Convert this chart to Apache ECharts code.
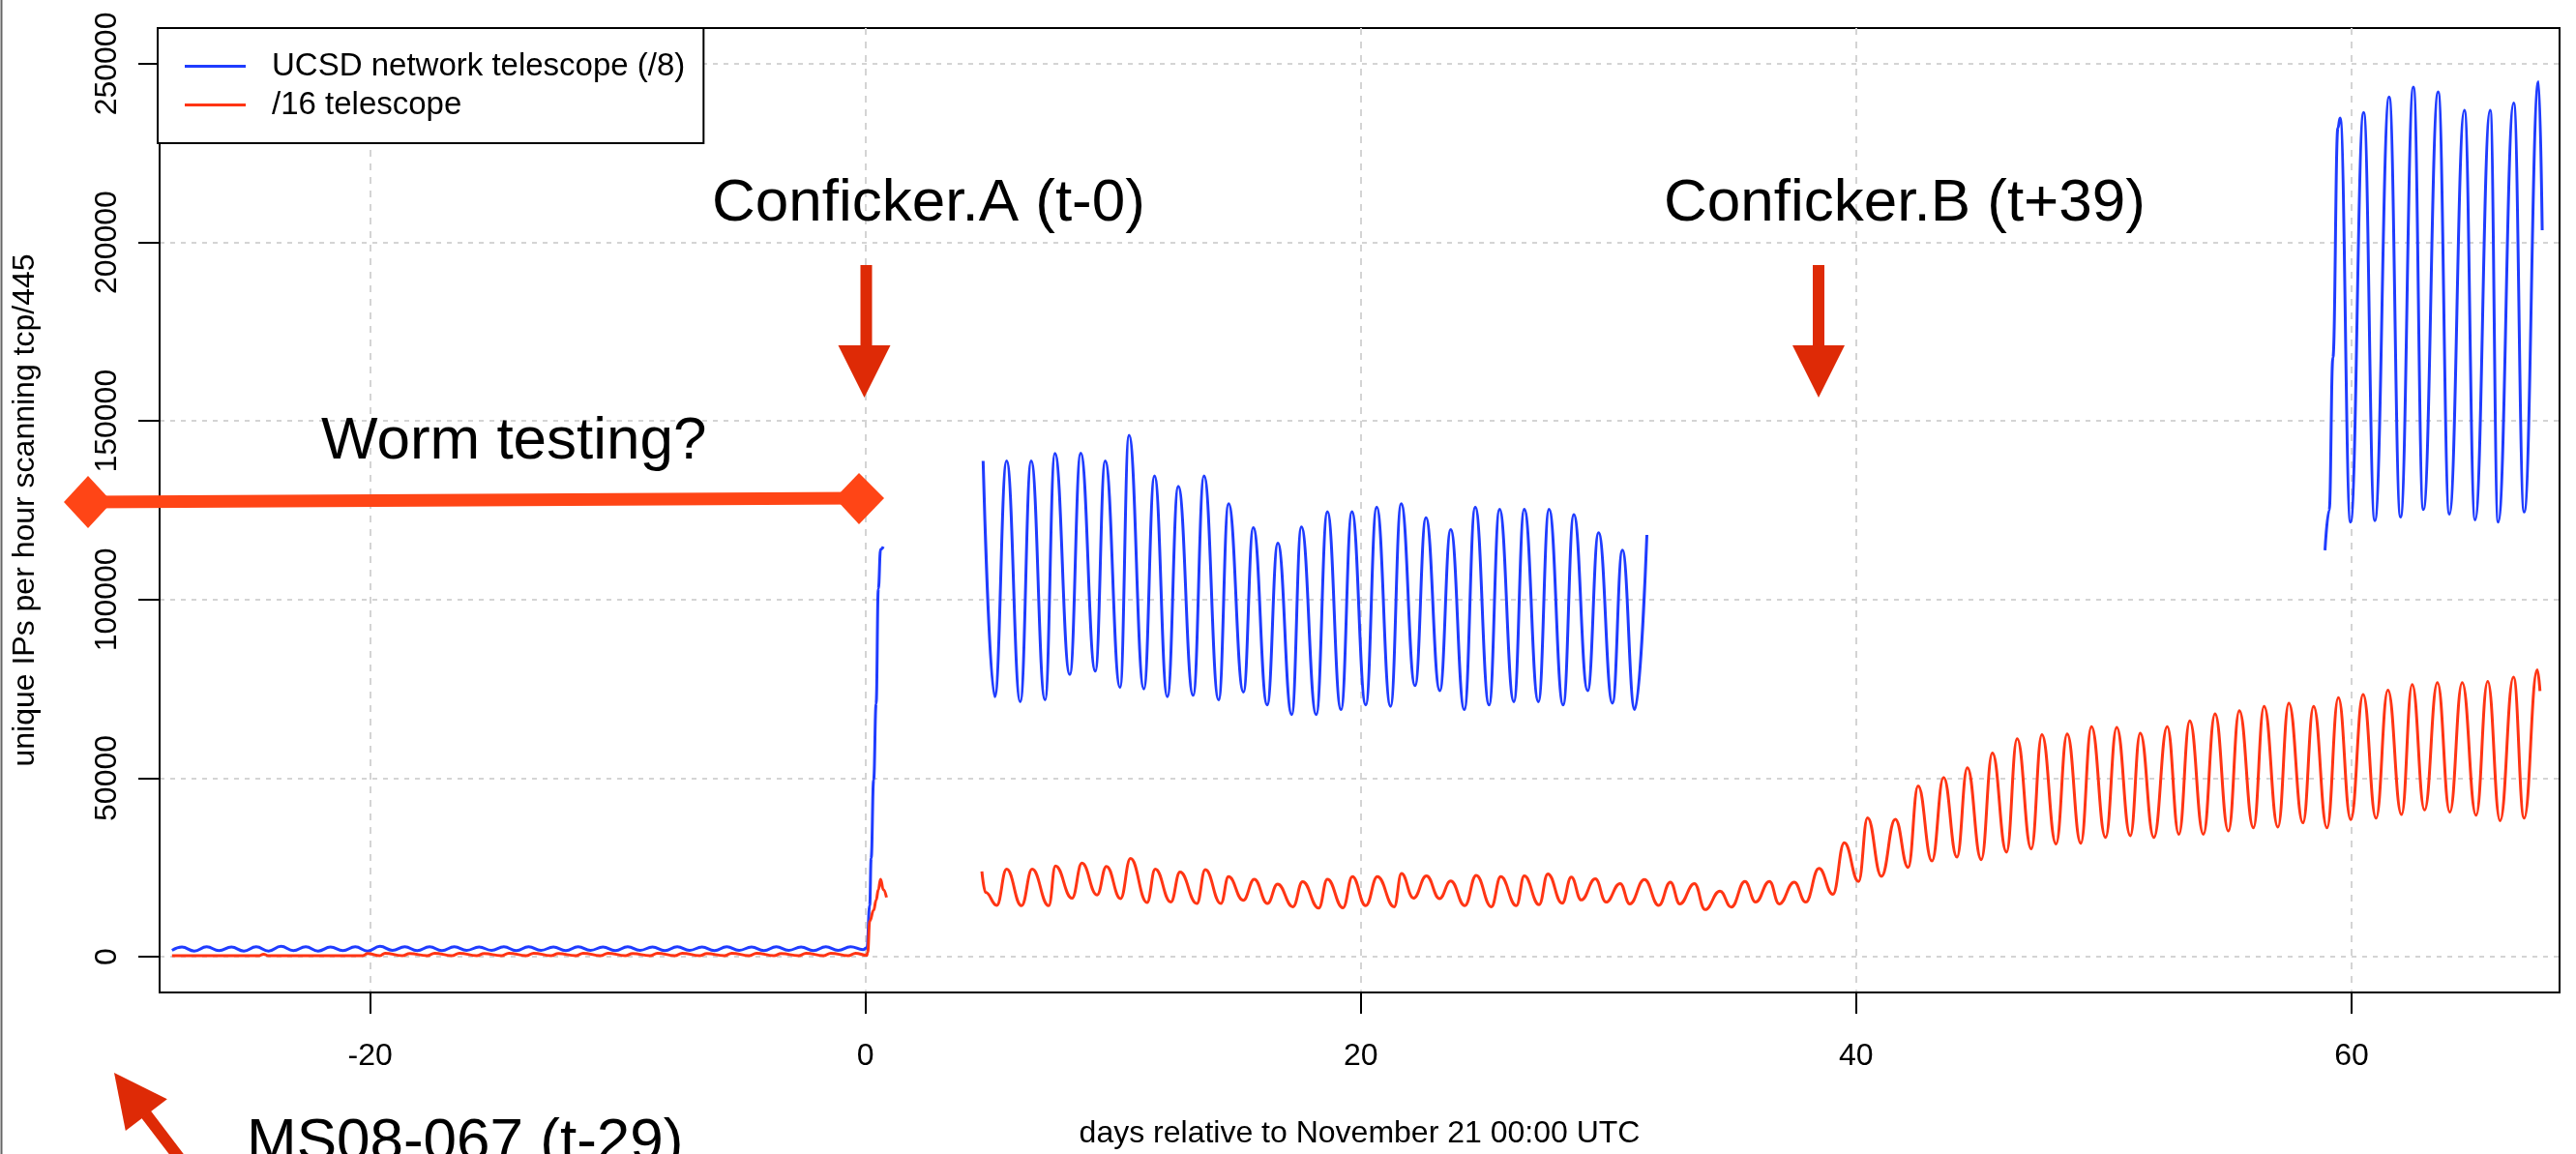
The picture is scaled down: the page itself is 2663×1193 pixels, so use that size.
<!DOCTYPE html>
<html>
<head>
<meta charset="utf-8">
<script src="https://cdn.jsdelivr.net/npm/echarts@6/dist/echarts.min.js"></script>
<style>
html, body { margin: 0; padding: 0; background: #fff; }
#main { width: 2663px; height: 1193px; }
</style>
</head>
<body>
<div id="main"></div>
<script>
// days relative to Nov 21, unique IPs per hour (peaks / troughs)
var xTicks = [-20, 0, 20, 40, 60];
var yTicks = [0, 50000, 100000, 150000, 200000, 250000];

var bluePre = [
  [-28,1800],[-27.6,2700],[-27.1,1600],[-26.6,2800],[-26.1,1700],[-25.6,2700],[-25.1,1600],
  [-24.6,2800],[-24.1,1600],[-23.6,2900],[-23.1,1700],[-22.6,2800],[-22.1,1600],[-21.6,2700],
  [-21.1,1700],[-20.6,2800],[-20.1,1600],[-19.6,2900],[-19.1,1800],[-18.6,2800],[-18.1,1700],
  [-17.6,2800],[-17.1,1700],[-16.6,2800],[-16.1,1800],[-15.6,2700],[-15.1,1800],[-14.6,2800],
  [-14.1,1700],[-13.6,2800],[-13.1,1800],[-12.6,2700],[-12.1,1700],[-11.6,2800],[-11.1,1800],
  [-10.6,2700],[-10.1,1700],[-9.6,2800],[-9.1,1800],[-8.6,2700],[-8.1,1700],[-7.6,2800],
  [-7.1,1800],[-6.6,2700],[-6.1,1700],[-5.6,2800],[-5.1,1800],[-4.6,2700],[-4.1,1700],
  [-3.6,2800],[-3.1,1800],[-2.6,2700],[-2.1,1700],[-1.6,2800],[-1.1,1800],[-0.6,2800],
  [-0.1,2000],[0.06,2500],[0.17,14400],[0.23,27600],[0.33,49500],[0.43,70800],
  [0.52,103000],[0.61,114000],[0.72,114800]
];
var blueMid = [
  [4.75,138800],[5.22,72800],[5.7,138800],[6.25,71400],[6.69,138800],[7.25,71900],
  [7.65,140900],[8.25,79000],[8.69,141000],[9.28,80000],[9.68,138800],[10.28,75400],
  [10.64,146000],[11.24,75000],[11.67,134600],[12.19,72800],[12.63,131700],[13.23,73200],
  [13.67,134600],[14.26,71900],[14.66,126800],[15.26,74100],[15.66,120100],[16.22,70500],
  [16.65,115800],[17.21,67800],[17.6,120300],[18.2,67800],[18.65,124600],[19.2,69200],
  [19.64,124600],[20.2,70500],[20.64,125900],[21.2,70100],[21.63,126800],[22.19,75900],
  [22.63,122900],[23.19,74500],[23.63,119600],[24.18,69200],[24.62,125900],[25.18,70500],
  [25.6,125300],[26.18,71400],[26.6,125300],[27.17,71400],[27.6,125300],[28.17,70500],
  [28.6,123800],[29.16,74500],[29.6,118700],[30.16,71000],[30.56,113800],[31.06,69200],
  [31.55,118100]
];
var blueEnd = [
  [58.93,113800],[59.1,125000],[59.25,167800],[59.45,232000],[59.54,234800],[59.96,121700],
  [60.49,236400],[60.94,122100],[61.52,240700],[61.98,123100],[62.5,243500],[62.9,125200],
  [63.5,242100],[63.95,123900],[64.56,237000],[64.99,122300],[65.6,237000],[65.92,121700],
  [66.55,239000],[66.97,124500],[67.55,245000],[67.7,203400]
];
var redPre = [
  [-28,300],[-24.5,300],[-24.3,700],[-24.1,300],[-20.3,300],[-20.1,900],[-19.6,300],
  [-19.4,1000],[-18.7,300],[-18.4,900],[-17.7,300],[-17.4,1000],[-16.7,300],[-16.4,1000],
  [-15.7,300],[-15.4,900],[-14.7,300],[-14.4,1000],[-13.7,300],[-13.4,1000],[-12.7,300],
  [-12.4,900],[-11.7,300],[-11.4,1000],[-10.7,300],[-10.4,1000],[-9.7,300],[-9.4,900],
  [-8.7,300],[-8.4,1000],[-7.7,300],[-7.4,1000],[-6.7,300],[-6.4,900],[-5.7,300],
  [-5.4,1000],[-4.7,300],[-4.4,1000],[-3.7,300],[-3.4,900],[-2.7,300],[-2.4,1000],
  [-1.7,300],[-1.4,1000],[-0.7,300],[-0.4,1000],[0.05,400],[0.09,1200],[0.17,10000],
  [0.33,13000],[0.43,15800],[0.52,18800],[0.61,21700],[0.72,18800],[0.85,16600]
];
var redPost = [
  [4.7,23900],[4.85,18000],[5.3,14400],[5.7,24500],[6.3,14300],[6.73,24500],[7.4,14300],
  [7.67,25400],[8.34,16400],[8.74,26200],[9.35,17300],[9.73,25300],[10.3,16300],
  [10.7,27500],[11.37,15200],[11.7,24500],[12.33,15300],[12.7,23700],[13.38,14900],
  [13.72,24400],[14.35,14900],[14.66,22400],[15.25,15800],[15.7,21700],[16.23,14900],
  [16.64,20300],[17.26,14000],[17.65,21000],[18.3,13600],[18.65,21700],[19.28,13700],
  [19.66,22400],[20.2,14300],[20.67,22400],[21.35,14000],[21.64,23300],[22.13,16400],
  [22.65,22600],[23.18,16300],[23.63,21200],[24.2,14300],[24.66,22800],[25.27,14000],
  [25.65,22400],[26.28,14300],[26.6,22600],[27.2,14600],[27.55,23200],[28.13,15000],
  [28.5,22300],[28.9,15900],[29.47,21800],[29.9,15300],[30.47,20500],[30.86,14800],
  [31.45,21600],[32.03,14400],[32.5,20900],[32.88,14800],[33.47,20500],[33.9,13200],
  [34.5,18400],[34.96,13900],[35.51,21100],[35.94,15300],[36.5,21100],[36.89,14800],
  [37.5,20900],[37.96,15300],[38.5,24700],[39.06,17500],[39.52,31900],[40.1,21100],
  [40.46,38900],[41.02,22500],[41.58,38500],[42.1,25000],[42.5,47800],[43.06,26800],
  [43.53,50200],[44.07,27900],[44.49,52900],[45.05,27200],[45.5,57000],[46.07,29300],
  [46.5,61000],[47.07,30200],[47.5,62200],[48.07,31600],[48.52,62400],[49.07,31800],
  [49.5,64400],[50.07,33400],[50.52,64200],[51.07,33900],[51.47,62600],[52.02,33400],
  [52.56,64400],[53.03,34300],[53.47,66000],[54.02,34300],[54.49,68000],[55.03,35200],
  [55.47,68900],[56.04,36100],[56.47,70100],[57.03,36300],[57.47,71000],[58.04,37500],
  [58.47,70100],[59.01,36100],[59.47,72500],[59.97,38400],[60.47,73400],[60.99,38800],
  [61.47,74600],[62.02,39800],[62.45,76200],[62.95,41100],[63.47,76700],[63.97,40500],
  [64.47,76700],[65.03,39600],[65.5,77100],[66.0,38100],[66.54,78300],[66.97,38800],
  [67.5,80300],[67.61,74400]
];

var BLUE = '#1f3cff', RED = '#ff3514';
var ARROW = '#de2a06', WORM = '#ff4516';
var FONT = 'Liberation Sans, Arial, Helvetica, sans-serif';

function lineSeries(name, data, color) {
    return {
        name: name, type: 'line', data: data,
        showSymbol: false, symbol: 'none',
        smooth: 0.45, smoothMonotone: 'x',
        lineStyle: { color: color, width: 3 },
        itemStyle: { color: color }
    };
}

var myChart = echarts.init(document.getElementById('main'));
option = {
    backgroundColor: '#fff',
    animation: false,
    textStyle: { fontFamily: FONT },
    grid: {
        left: 165, top: 29, right: 17, bottom: 166,
        show: true, borderColor: '#000', borderWidth: 2
    },
    legend: {
        orient: 'vertical',
        left: 163, top: 29,
        padding: [23, 19, 23, 28],
        itemGap: 7,
        itemWidth: 63, itemHeight: 3,
        borderColor: '#000', borderWidth: 2, borderRadius: 0,
        backgroundColor: '#fff',
        textStyle: { fontSize: 33, color: '#000', fontFamily: FONT, padding: [0, 0, 0, 22] },
        data: [
            { name: 'UCSD network telescope (/8)', icon: 'rect' },
            { name: '/16 telescope', icon: 'rect' }
        ]
    },
    xAxis: {
        type: 'value', min: -28.5, max: 68.4,
        name: 'days relative to November 21 00:00 UTC',
        nameLocation: 'middle', nameGap: 130,
        nameTextStyle: { fontSize: 32, color: '#000', fontFamily: FONT },
        axisLine: { show: true, onZero: false, lineStyle: { color: '#000', width: 2 } },
        axisTick: { show: true, length: 22, lineStyle: { color: '#000', width: 2 }, customValues: xTicks },
        axisLabel: { fontSize: 32, color: '#000', margin: 50, customValues: xTicks, fontFamily: FONT },
        splitLine: { show: true, lineStyle: { color: '#d4d4d4', width: 2, type: [7, 7] } }
    },
    yAxis: {
        type: 'value', min: -10000, max: 260000,
        name: 'unique IPs per hour scanning tcp/445',
        nameLocation: 'middle', nameGap: 123,
        nameTextStyle: { fontSize: 32, color: '#000', fontFamily: FONT },
        axisLine: { show: true, onZero: false, lineStyle: { color: '#000', width: 2 } },
        axisTick: { show: true, length: 22, lineStyle: { color: '#000', width: 2 }, customValues: yTicks },
        axisLabel: {
            fontSize: 32, color: '#000', margin: 38, rotate: 90, customValues: yTicks, fontFamily: FONT,
            formatter: function (v) { return String(v); }
        },
        splitLine: { show: true, lineStyle: { color: '#d4d4d4', width: 2, type: [5, 6] } }
    },
    series: [
        lineSeries('UCSD network telescope (/8)', bluePre, BLUE),
        lineSeries('UCSD network telescope (/8)', blueMid, BLUE),
        lineSeries('UCSD network telescope (/8)', blueEnd, BLUE),
        lineSeries('/16 telescope', redPre, RED),
        lineSeries('/16 telescope', redPost, RED)
    ],
    graphic: [
        // image border on the left
        { type: 'line', shape: { x1: 1.5, y1: 0, x2: 1.5, y2: 1193 }, style: { stroke: '#666', lineWidth: 2 }, z: 100 },
        // annotations
        { type: 'text', x: 736, y: 211, z: 100, style: { text: 'Conficker.A (t-0)', fontSize: 62, fontFamily: FONT, fill: '#000', textVerticalAlign: 'middle' } },
        { type: 'text', x: 1720, y: 211, z: 100, style: { text: 'Conficker.B (t+39)', fontSize: 62, fontFamily: FONT, fill: '#000', textVerticalAlign: 'middle' } },
        { type: 'text', x: 332, y: 457, z: 100, style: { text: 'Worm testing?', fontSize: 62, fontFamily: FONT, fill: '#000', textVerticalAlign: 'middle' } },
        { type: 'text', x: 255, y: 1182, z: 100, style: { text: 'MS08-067 (t-29)', fontSize: 62, fontFamily: FONT, fill: '#000', textVerticalAlign: 'middle' } },
        { type: 'rect', shape: { x: 889.5, y: 274, width: 12, height: 88 }, style: { fill: ARROW }, z: 100 },
        { type: 'polygon', shape: { points: [[866.5, 357], [920.5, 357], [893.5, 411]] }, style: { fill: ARROW }, z: 100 },
        { type: 'rect', shape: { x: 1874, y: 274, width: 12, height: 88 }, style: { fill: ARROW }, z: 100 },
        { type: 'polygon', shape: { points: [[1853, 357], [1907, 357], [1880, 411]] }, style: { fill: ARROW }, z: 100 },
        { type: 'line', shape: { x1: 151, y1: 1152, x2: 215, y2: 1236 }, style: { stroke: ARROW, lineWidth: 12 }, z: 100 },
        { type: 'polygon', shape: { points: [[118, 1109], [172.8, 1136.3], [129.8, 1169.1]] }, style: { fill: ARROW }, z: 100 },
        { type: 'line', shape: { x1: 91, y1: 519, x2: 888, y2: 515 }, style: { stroke: WORM, lineWidth: 13 }, z: 100 },
        { type: 'polygon', shape: { points: [[66, 519], [91, 492], [116, 519], [91, 546]] }, style: { fill: WORM }, z: 100 },
        { type: 'polygon', shape: { points: [[863, 515], [888, 489], [914, 515], [888, 542]] }, style: { fill: WORM }, z: 100 }
    ]
};
myChart.setOption(option);
</script>
</body>
</html>
